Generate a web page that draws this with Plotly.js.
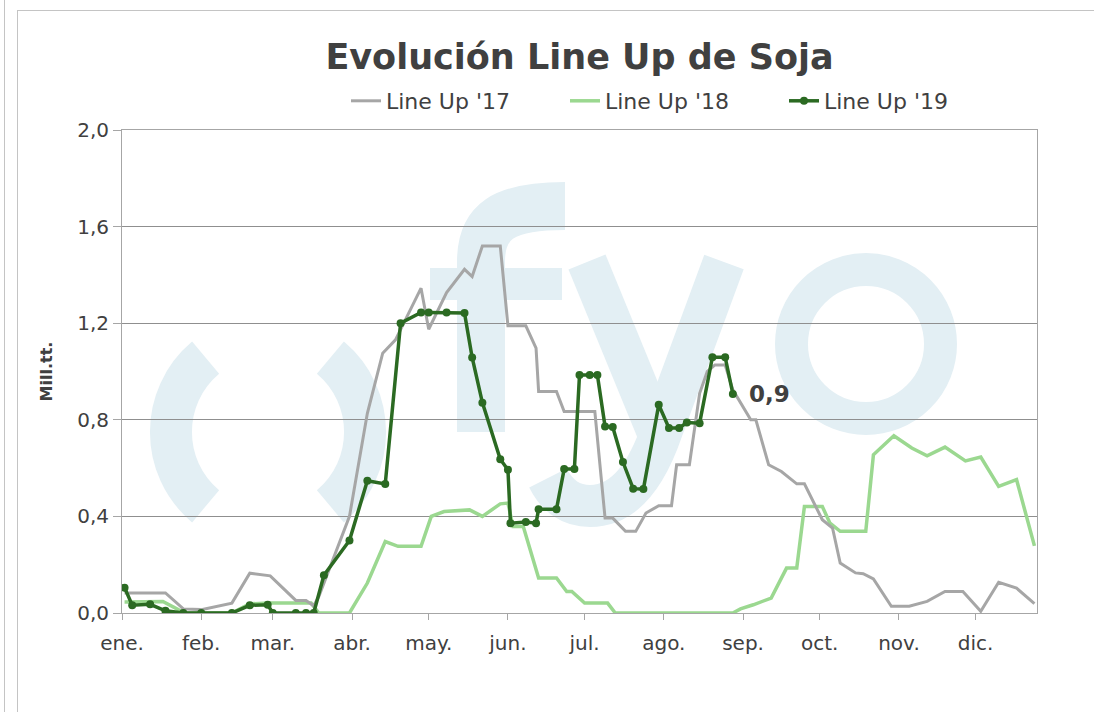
<!DOCTYPE html>
<html>
<head>
<meta charset="utf-8">
<script src="https://cdn.plot.ly/plotly-3.0.1.min.js"></script>
<style>
html,body{margin:0;padding:0;background:#fff;overflow:hidden;width:1094px;height:712px;}
#chart{position:absolute;left:0;top:0;width:1094px;height:712px;}
.frame{position:absolute;left:17px;top:10px;width:1090px;height:760px;border:1px solid #c4c4c4;pointer-events:none;}
.edge{position:absolute;left:4px;top:0;width:0;height:712px;border-left:1px solid #c4c4c4;pointer-events:none;}
</style>
</head>
<body>
<div id="chart"></div>
<div class="edge"></div>
<div class="frame"></div>
<script>
// ---- data ----
const titleText = "Evolución Line Up de Soja";
const yAxisLabel = "Mill.tt.";
const seriesNames = ["Line Up '17", "Line Up '18", "Line Up '19"];
const monthStarts = ["2019-01-01","2019-02-01","2019-03-01","2019-04-01","2019-05-01","2019-06-01",
                     "2019-07-01","2019-08-01","2019-09-01","2019-10-01","2019-11-01","2019-12-01"];
const monthLabels = ["ene.","feb.","mar.","abr.","may.","jun.","jul.","ago.","sep.","oct.","nov.","dic."];

const dates17 = ["2019-01-02","2019-01-18","2019-01-25","2019-02-01","2019-02-13","2019-02-20","2019-02-28",
  "2019-03-10","2019-03-14","2019-03-17","2019-03-19","2019-03-31","2019-04-07","2019-04-13","2019-04-18",
  "2019-04-28","2019-05-01","2019-05-08","2019-05-15","2019-05-18","2019-05-22","2019-05-29","2019-06-01",
  "2019-06-08","2019-06-12","2019-06-13","2019-06-20","2019-06-23","2019-07-05","2019-07-09","2019-07-12",
  "2019-07-17","2019-07-21","2019-07-25","2019-07-30","2019-08-04","2019-08-06","2019-08-11","2019-08-15",
  "2019-08-18","2019-08-21","2019-08-25","2019-08-28","2019-09-04","2019-09-06","2019-09-11","2019-09-16",
  "2019-09-22","2019-09-25","2019-10-02","2019-10-06","2019-10-09","2019-10-15","2019-10-18","2019-10-22",
  "2019-10-29","2019-11-05","2019-11-12","2019-11-19","2019-11-26","2019-12-03","2019-12-10","2019-12-17",
  "2019-12-24"];
const values17 = [0.083,0.083,0.017,0.014,0.041,0.165,0.154,
  0.052,0.052,0.030,0.068,0.400,0.827,1.076,1.131,
  1.345,1.175,1.327,1.423,1.393,1.520,1.520,1.189,
  1.189,1.097,0.917,0.917,0.834,0.834,0.393,0.393,
  0.338,0.338,0.414,0.444,0.444,0.614,0.614,0.910,
  1.000,1.027,1.027,0.924,0.800,0.800,0.614,0.586,
  0.535,0.535,0.386,0.352,0.207,0.166,0.163,0.141,
  0.028,0.028,0.048,0.089,0.089,0.007,0.127,0.103,
  0.039];

const dates18 = ["2019-01-02","2019-01-17","2019-01-23","2019-01-26","2019-02-13","2019-02-20","2019-02-27",
  "2019-03-16","2019-03-19","2019-03-31","2019-04-07","2019-04-14","2019-04-19","2019-04-28","2019-05-02",
  "2019-05-07","2019-05-17","2019-05-22","2019-05-29","2019-06-01","2019-06-03","2019-06-07","2019-06-13",
  "2019-06-20","2019-06-24","2019-06-26","2019-07-01","2019-07-10","2019-07-13","2019-08-28","2019-08-31",
  "2019-09-05","2019-09-12","2019-09-18","2019-09-22","2019-09-25","2019-10-02","2019-10-05","2019-10-09",
  "2019-10-19","2019-10-22","2019-10-30","2019-11-06","2019-11-12","2019-11-19","2019-11-27","2019-12-03",
  "2019-12-10","2019-12-17","2019-12-24"];
const values18 = [0.046,0.048,0.014,0.000,0.000,0.038,0.041,
  0.041,0.000,0.000,0.124,0.296,0.276,0.276,0.400,
  0.420,0.427,0.400,0.452,0.455,0.358,0.358,0.145,
  0.145,0.089,0.089,0.041,0.041,0.000,0.000,0.017,
  0.034,0.062,0.186,0.186,0.441,0.441,0.372,0.338,
  0.338,0.655,0.734,0.683,0.651,0.687,0.630,0.646,
  0.524,0.552,0.278];

const dates19 = ["2019-01-02","2019-01-05","2019-01-12","2019-01-18","2019-01-25","2019-02-01","2019-02-13",
  "2019-02-20","2019-02-27","2019-03-01","2019-03-10","2019-03-14","2019-03-17","2019-03-21","2019-03-31",
  "2019-04-07","2019-04-14","2019-04-20","2019-04-28","2019-05-01","2019-05-08","2019-05-15","2019-05-18",
  "2019-05-22","2019-05-29","2019-06-01","2019-06-02","2019-06-08","2019-06-12","2019-06-13","2019-06-20",
  "2019-06-23","2019-06-27","2019-06-29","2019-07-03","2019-07-06","2019-07-09","2019-07-12","2019-07-16",
  "2019-07-20","2019-07-24","2019-07-30","2019-08-03","2019-08-07","2019-08-10","2019-08-15","2019-08-20",
  "2019-08-25","2019-08-28"];
const values19 = [0.105,0.032,0.036,0.009,0.000,0.000,0.000,
  0.032,0.034,0.000,0.000,0.000,0.000,0.156,0.300,
  0.548,0.534,1.200,1.244,1.244,1.244,1.242,1.058,
  0.871,0.637,0.593,0.372,0.377,0.372,0.430,0.430,
  0.596,0.596,0.986,0.986,0.986,0.772,0.770,0.625,
  0.515,0.513,0.862,0.766,0.766,0.789,0.786,1.059,
  1.059,0.907];

// ---- layout helpers (plot area in pixels) ----
const L = 122, R = 1037, T = 130, B = 613;
const W = 1094, H = 712;
function px(X){ return (X - L) / (R - L); }
function py(Y){ return (B - Y) / (B - T); }
function path(cmds){
  return cmds.map(c => c[0] + ' ' + c.slice(1).map((v,i) => (i % 2 === 0 ? px(v) : py(v)).toFixed(5)).join(',')).join(' ');
}
const textColor = '#404040';
const fontFam = 'DejaVu Sans, Verdana, sans-serif';
const wm = '#e3eff4';

// watermark logo shapes (decoration)
const shapes = [
  {type:'path', xref:'paper', yref:'paper', layer:'below', line:{color:wm, width:42},
   path: path([['M',205.6,357.7],['C',159.4,396.5,159.4,467.5,205.6,506.3]])},
  {type:'path', xref:'paper', yref:'paper', layer:'below', line:{color:wm, width:42},
   path: path([['M',330.4,357.7],['C',376.6,396.5,376.6,467.5,330.4,506.3]])},
  {type:'path', xref:'paper', yref:'paper', layer:'below', line:{color:wm, width:48},
   path: path([['M',481,432],['L',481,262],['C',481,222,502,206,565,206]])},
  {type:'rect', xref:'paper', yref:'paper', layer:'below', line:{width:0}, fillcolor:wm,
   x0:px(430), x1:px(562), y0:py(300), y1:py(268)},
  {type:'path', xref:'paper', yref:'paper', layer:'below', line:{color:wm, width:40},
   path: path([['M',587,262],['L',660,440]])},
  {type:'path', xref:'paper', yref:'paper', layer:'below', line:{color:wm, width:42},
   path: path([['M',724,262],['L',662,430],['Q',636,506,590,506],['Q',562,506,548,478]])},
  {type:'circle', xref:'paper', yref:'paper', layer:'below', line:{color:wm, width:33},
   fillcolor:'rgba(0,0,0,0)', x0:px(866-74.5), x1:px(866+74.5), y0:py(344+74.5), y1:py(344-74.5)}
];

const traces = [
  {x:dates18, y:values18, name:seriesNames[1], type:'scatter', mode:'lines', legendrank:2,
   line:{color:'#9bd890', width:3.5}, hoverinfo:'skip'},
  {x:dates17, y:values17, name:seriesNames[0], type:'scatter', mode:'lines', legendrank:1,
   line:{color:'#a6a6a6', width:3}, hoverinfo:'skip'},
  {x:dates19, y:values19, name:seriesNames[2], type:'scatter', mode:'lines+markers', legendrank:3,
   line:{color:'#2b6a22', width:3.5}, marker:{color:'#2b6a22', size:8}, hoverinfo:'skip'}
];

const lastIdx = values19.length - 1;
const lastLabel = values19[lastIdx].toFixed(1).replace('.', ',');

const layout = {
  width: W, height: H,
  margin: {l: L, r: W - R, t: T, b: H - B, pad: 0},
  paper_bgcolor: 'rgba(0,0,0,0)', plot_bgcolor: 'rgba(0,0,0,0)',
  separators: ',.',
  font: {family: fontFam, color: textColor, size: 20},
  title: {text: titleText, x: 0.5, xref: 'paper', xanchor: 'center', y: 1 - 57/H, yanchor: 'middle',
          font: {family: fontFam, size: 35, color: textColor, weight: 'bold'}},
  showlegend: true,
  legend: {orientation: 'h', x: px(346), xanchor: 'left', y: py(101), yanchor: 'middle',
           entrywidth: 174, entrywidthmode: 'pixels',
           font: {family: fontFam, size: 22, color: textColor}, bgcolor: 'rgba(0,0,0,0)'},
  xaxis: {type: 'date', range: ['2019-01-01', '2019-12-25'], tickvals: monthStarts, ticktext: monthLabels,
          ticks: 'outside', ticklen: 6, tickcolor: '#a6a6a6', tickwidth: 1, ticklabelstandoff: 6,
          showgrid: false, zeroline: false, showline: true, linecolor: '#a6a6a6', linewidth: 1, mirror: true,
          tickfont: {family: fontFam, size: 20, color: textColor}, fixedrange: true},
  yaxis: {range: [0, 2], tick0: 0, dtick: 0.4, tickformat: '.1f',
          ticks: 'outside', ticklen: 8, tickcolor: '#a6a6a6', tickwidth: 1,
          showgrid: true, gridcolor: '#8f8f8f', gridwidth: 1, zeroline: false,
          showline: true, linecolor: '#a6a6a6', linewidth: 1, mirror: true,
          tickfont: {family: fontFam, size: 20, color: textColor},
          title: {text: yAxisLabel, font: {family: fontFam, size: 16, color: textColor, weight: 'bold'}, standoff: 20},
          fixedrange: true},
  shapes: shapes,
  annotations: [{x: dates19[lastIdx], y: values19[lastIdx], xref: 'x', yref: 'y', text: lastLabel,
                 showarrow: false, xanchor: 'left', yanchor: 'middle', xshift: 14,
                 font: {family: fontFam, size: 23, color: textColor, weight: 'bold'}}]
};

Plotly.newPlot('chart', traces, layout, {displayModeBar: false, staticPlot: true});
</script>
</body>
</html>
